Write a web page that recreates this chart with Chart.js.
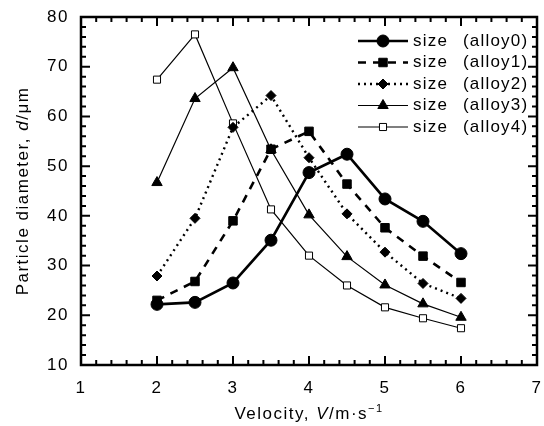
<!DOCTYPE html>
<html>
<head>
<meta charset="utf-8">
<script src="https://cdn.jsdelivr.net/npm/chart.js@4.4.1/dist/chart.umd.min.js"></script>
<style>
  html, body { margin: 0; padding: 0; background: #fff; }
  #wrap { width: 544px; height: 426px; position: relative; }
</style>
</head>
<body>
<div id="wrap"><canvas id="chart"></canvas></div>
<script>
'use strict';

// velocity (m/s)
const velocity = [2, 2.5, 3, 3.5, 4, 4.5, 5, 5.5, 6];

// particle diameter (um) per alloy
const alloy0 = [22.2, 22.6, 26.5, 35.1, 48.7, 52.4, 43.4, 38.9, 32.4];
const alloy1 = [23.0, 26.8, 39.0, 53.4, 57.0, 46.4, 37.6, 31.9, 26.6];
const alloy2 = [27.9, 39.5, 57.8, 64.2, 51.7, 40.4, 32.7, 26.4, 23.4];
const alloy3 = [46.7, 63.6, 69.8, 53.3, 40.2, 31.8, 26.1, 22.3, 19.6];
const alloy4 = [67.4, 76.5, 58.6, 41.3, 32.0, 26.0, 21.6, 19.4, 17.4];

const seriesLabels = ['alloy0', 'alloy1', 'alloy2', 'alloy3', 'alloy4'];

const xTicks = [1, 2, 3, 4, 5, 6, 7];
const yTicks = [10, 20, 30, 40, 50, 60, 70, 80];

const FONT = 'Arial, "Liberation Sans", Helvetica, sans-serif';
const SPACING = '1.5px';

function toPoints(values) {
    return velocity.map((v, i) => ({ x: v, y: values[i] }));
}

const styles = [
    { pointStyle: 'circle', radius: 6, width: 2.6, dash: [], fill: '#000' },
    { pointStyle: 'rect', radius: 6, width: 2.6, dash: [8, 7], fill: '#000' },
    { pointStyle: 'rectRot', radius: 5, width: 2.4, dash: [2, 4], fill: '#000' },
    { pointStyle: 'triangle', radius: 6, width: 1.2, dash: [], fill: '#000' },
    { pointStyle: 'rect', radius: 5, width: 1.2, dash: [], fill: '#fff' },
];

const allValues = [alloy0, alloy1, alloy2, alloy3, alloy4];

const datasets = allValues.map((vals, i) => ({
    label: 'size  (' + seriesLabels[i] + ')',
    data: toPoints(vals),
    showLine: true,
    borderColor: '#000',
    borderWidth: styles[i].width,
    borderDash: styles[i].dash,
    pointStyle: styles[i].pointStyle,
    pointRadius: styles[i].radius,
    pointBackgroundColor: styles[i].fill,
    pointBorderColor: '#000',
    pointBorderWidth: 1,
    tension: 0,
}));

// wider letter spacing, like the scanned figure
const spacingPlugin = {
    id: 'spacing',
    beforeDraw(chart) { chart.ctx.letterSpacing = SPACING; },
};

// frame with inward ticks on all four sides
const framePlugin = {
    id: 'frame',
    afterDraw(chart) {
        const ctx = chart.ctx;
        const a = chart.chartArea;
        const xs = chart.scales.x;
        const ys = chart.scales.y;
        ctx.save();
        ctx.strokeStyle = '#000';
        ctx.lineWidth = 2.5;
        ctx.strokeRect(a.left, a.top, a.right - a.left, a.bottom - a.top);

        ctx.lineWidth = 2;
        for (let v = 1; v <= 7.001; v += 0.2) {
            const major = Math.abs(v - Math.round(v)) < 0.01;
            const len = major ? 9 : 5;
            const px = xs.getPixelForValue(v);
            ctx.beginPath();
            ctx.moveTo(px, a.bottom); ctx.lineTo(px, a.bottom - len);
            ctx.moveTo(px, a.top); ctx.lineTo(px, a.top + len);
            ctx.stroke();
        }
        for (let v = 10; v <= 80.001; v += 2) {
            const major = v % 10 === 0;
            const len = major ? 9 : 5;
            const py = ys.getPixelForValue(v);
            ctx.beginPath();
            ctx.moveTo(a.left, py); ctx.lineTo(a.left + len, py);
            ctx.moveTo(a.right, py); ctx.lineTo(a.right - len, py);
            ctx.stroke();
        }
        ctx.restore();
    }
};

// draw a run of text pieces, some italic
function drawPieces(ctx, pieces, x, y, size) {
    let total = 0;
    pieces.forEach(p => {
        ctx.font = (p.italic ? 'italic ' : '') + (p.size || size) + 'px ' + FONT;
        p.w = ctx.measureText(p.t).width;
        total += p.w;
    });
    let cx = x - total / 2;
    pieces.forEach(p => {
        ctx.font = (p.italic ? 'italic ' : '') + (p.size || size) + 'px ' + FONT;
        ctx.fillText(p.t, cx, y + (p.dy || 0));
        cx += p.w;
    });
}

const titlePlugin = {
    id: 'axisTitles',
    afterDraw(chart) {
        const ctx = chart.ctx;
        const a = chart.chartArea;
        ctx.save();
        ctx.letterSpacing = SPACING;
        ctx.fillStyle = '#000';
        ctx.textBaseline = 'alphabetic';
        ctx.textAlign = 'left';
        drawPieces(ctx, [
            { t: 'Velocity, ' },
            { t: 'V', italic: true },
            { t: '/m\u00b7s' },
            { t: '\u22121', size: 11, dy: -7 },
        ], (a.left + a.right) / 2, 419, 17);

        ctx.translate(28, (a.top + a.bottom) / 2);
        ctx.rotate(-Math.PI / 2);
        drawPieces(ctx, [
            { t: 'Particle diameter, ' },
            { t: 'd', italic: true },
            { t: '/\u03bcm' },
        ], 0, 0, 17);
        ctx.restore();
    }
};

// legend inside the plot, top right
const legendPlugin = {
    id: 'innerLegend',
    afterDraw(chart) {
        const ctx = chart.ctx;
        ctx.save();
        chart.data.datasets.forEach((ds, i) => {
            const y = 41 + i * 21.5;
            ctx.letterSpacing = '0px';
            ctx.strokeStyle = '#000';
            ctx.lineWidth = ds.borderWidth;
            ctx.setLineDash(ds.borderDash);
            ctx.beginPath();
            ctx.moveTo(358, y); ctx.lineTo(408, y);
            ctx.stroke();
            ctx.setLineDash([]);
            ctx.fillStyle = ds.pointBackgroundColor;
            ctx.lineWidth = 1;
            Chart.helpers.drawPoint(ctx, {
                pointStyle: ds.pointStyle,
                radius: ds.pointRadius,
                borderWidth: 1,
                rotation: 0,
            }, 383, y);
            ctx.letterSpacing = '1.2px';
            ctx.fillStyle = '#000';
            ctx.font = '17px ' + FONT;
            ctx.textBaseline = 'middle';
            ctx.textAlign = 'left';
            ctx.fillText('size', 413, y);
            ctx.fillText('(' + seriesLabels[i] + ')', 463, y);
        });
        ctx.restore();
    }
};

new Chart(document.getElementById('chart'), {
    type: 'scatter',
    data: { datasets: datasets },
    plugins: [spacingPlugin, framePlugin, titlePlugin, legendPlugin],
    options: {
        responsive: true,
        maintainAspectRatio: false,
        animation: false,
        layout: { padding: { left: 21, right: 5, top: 17, bottom: 0 } },
        plugins: {
            legend: { display: false },
            tooltip: { enabled: false },
        },
        scales: {
            x: {
                type: 'linear',
                min: 1,
                max: 7,
                afterBuildTicks(scale) {
                    scale.ticks = xTicks.map(v => ({ value: v }));
                },
                afterFit(scale) {
                    scale.height = 61;
                    scale.paddingLeft = 0;
                    scale.paddingRight = 0;
                },
                grid: { display: false, drawTicks: false },
                border: { display: false },
                ticks: {
                    color: '#000',
                    padding: 13,
                    font: { family: FONT, size: 17 },
                },
            },
            y: {
                type: 'linear',
                min: 10,
                max: 80,
                afterBuildTicks(scale) {
                    scale.ticks = yTicks.map(v => ({ value: v }));
                },
                afterFit(scale) {
                    scale.width = 60;
                    scale.paddingTop = 0;
                    scale.paddingBottom = 0;
                },
                grid: { display: false, drawTicks: false },
                border: { display: false },
                ticks: {
                    color: '#000',
                    padding: 12,
                    font: { family: FONT, size: 17 },
                },
            },
        },
    },
});
</script>
</body>
</html>
